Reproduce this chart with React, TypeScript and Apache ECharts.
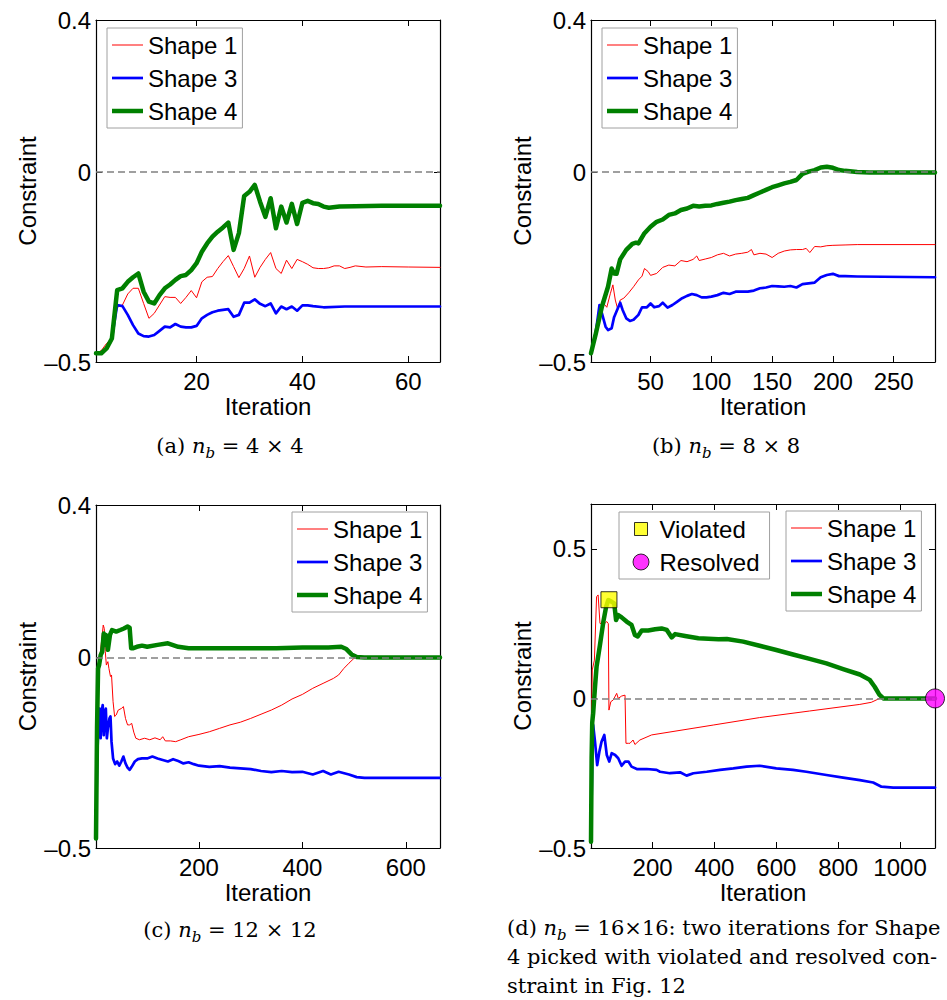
import React, { useEffect, useRef } from 'react';
import * as echarts from 'echarts';

type Pt = [number, number];

// ---------- tick values ----------
const A_XTICKS = [20, 40, 60];
const B_XTICKS = [50, 100, 150, 200, 250];
const C_XTICKS = [200, 400, 600];
const D_XTICKS = [200, 400, 600, 800, 1000];
const Y_TICKS_ABC = [-0.5, 0, 0.4];
const Y_TICKS_D = [-0.5, 0, 0.5];

const SHAPE_NAMES = ['Shape 1', 'Shape 3', 'Shape 4'];
const MARKER_NAMES = ['Violated', 'Resolved'];

// ---------- (a) n_b = 4x4 ----------
const A_S1: Pt[] = [[1,-0.477],[2,-0.470],[3,-0.451],[4,-0.438],[5,-0.356],[6,-0.350],[7,-0.321],[8,-0.306],[9,-0.306],[10,-0.346],[11,-0.385],[12,-0.372],[13,-0.350],[14,-0.328],[15,-0.330],[16,-0.330],[17,-0.346],[18,-0.330],[19,-0.312],[20,-0.331],[21,-0.289],[22,-0.277],[23,-0.275],[24,-0.254],[25,-0.236],[26,-0.220],[27,-0.249],[28,-0.278],[29,-0.254],[30,-0.221],[31,-0.277],[32,-0.251],[33,-0.230],[34,-0.212],[35,-0.254],[36,-0.267],[37,-0.232],[38,-0.254],[39,-0.230],[40,-0.236],[41,-0.243],[42,-0.252],[43,-0.254],[44,-0.254],[45,-0.252],[46,-0.247],[47,-0.247],[48,-0.254],[49,-0.251],[50,-0.247],[52,-0.250],[55,-0.249],[60,-0.250],[66,-0.251]];
const A_S3: Pt[] = [[1,-0.477],[2,-0.475],[3,-0.464],[4,-0.438],[5,-0.350],[6,-0.353],[7,-0.376],[8,-0.403],[9,-0.425],[10,-0.432],[11,-0.433],[12,-0.429],[13,-0.418],[14,-0.407],[15,-0.409],[16,-0.400],[17,-0.407],[18,-0.409],[19,-0.409],[20,-0.405],[21,-0.385],[22,-0.376],[23,-0.369],[24,-0.365],[25,-0.363],[26,-0.361],[27,-0.381],[28,-0.376],[29,-0.344],[30,-0.344],[31,-0.335],[32,-0.347],[33,-0.353],[34,-0.346],[35,-0.372],[36,-0.354],[37,-0.361],[38,-0.354],[39,-0.365],[40,-0.351],[41,-0.351],[42,-0.353],[44,-0.356],[48,-0.354],[55,-0.354],[66,-0.354]];
const A_S4: Pt[] = [[1,-0.477],[2,-0.477],[3,-0.464],[4,-0.438],[5,-0.311],[6,-0.306],[7,-0.289],[8,-0.277],[9,-0.267],[10,-0.315],[11,-0.341],[12,-0.346],[13,-0.324],[14,-0.306],[15,-0.296],[16,-0.284],[17,-0.274],[18,-0.271],[19,-0.258],[20,-0.240],[21,-0.210],[22,-0.188],[23,-0.170],[24,-0.157],[25,-0.146],[26,-0.133],[27,-0.205],[28,-0.161],[29,-0.063],[30,-0.052],[31,-0.034],[32,-0.078],[33,-0.118],[34,-0.069],[35,-0.148],[36,-0.091],[37,-0.133],[38,-0.084],[39,-0.137],[40,-0.081],[41,-0.076],[42,-0.082],[43,-0.084],[44,-0.091],[45,-0.094],[47,-0.091],[50,-0.090],[55,-0.089],[60,-0.089],[66,-0.089]];

// ---------- (b) n_b = 8x8 ----------
const B_S1: Pt[] = [[1,-0.477],[5,-0.420],[8,-0.354],[10,-0.346],[12,-0.348],[14,-0.356],[17,-0.319],[19,-0.297],[21,-0.337],[23,-0.361],[25,-0.337],[28,-0.332],[32,-0.318],[36,-0.302],[40,-0.284],[43,-0.274],[45,-0.254],[48,-0.262],[50,-0.272],[55,-0.267],[60,-0.251],[65,-0.245],[70,-0.247],[75,-0.233],[80,-0.236],[85,-0.230],[88,-0.221],[90,-0.233],[95,-0.229],[100,-0.225],[105,-0.218],[110,-0.214],[115,-0.221],[120,-0.216],[125,-0.214],[130,-0.211],[133,-0.204],[135,-0.218],[140,-0.214],[145,-0.216],[150,-0.225],[155,-0.214],[160,-0.208],[165,-0.205],[170,-0.204],[175,-0.204],[178,-0.201],[181,-0.212],[185,-0.196],[190,-0.197],[195,-0.194],[200,-0.193],[210,-0.192],[220,-0.191],[284,-0.191]];
const B_S3: Pt[] = [[1,-0.477],[5,-0.420],[8,-0.350],[10,-0.372],[13,-0.407],[15,-0.416],[18,-0.411],[20,-0.382],[23,-0.359],[25,-0.344],[27,-0.363],[30,-0.385],[33,-0.392],[36,-0.389],[40,-0.376],[43,-0.356],[47,-0.356],[50,-0.346],[53,-0.356],[57,-0.353],[60,-0.344],[64,-0.357],[68,-0.350],[72,-0.341],[76,-0.332],[80,-0.326],[84,-0.321],[88,-0.324],[92,-0.330],[96,-0.330],[100,-0.328],[105,-0.324],[110,-0.318],[115,-0.321],[120,-0.315],[125,-0.315],[130,-0.315],[135,-0.312],[140,-0.306],[145,-0.304],[150,-0.300],[155,-0.301],[160,-0.302],[165,-0.300],[170,-0.304],[175,-0.295],[180,-0.293],[185,-0.291],[190,-0.277],[195,-0.271],[200,-0.268],[205,-0.274],[210,-0.274],[220,-0.275],[284,-0.277]];
const B_S4: Pt[] = [[1,-0.477],[5,-0.425],[10,-0.354],[15,-0.302],[18,-0.254],[20,-0.267],[22,-0.268],[25,-0.230],[30,-0.205],[35,-0.189],[38,-0.186],[40,-0.188],[45,-0.161],[50,-0.144],[55,-0.131],[60,-0.125],[65,-0.113],[70,-0.109],[75,-0.100],[80,-0.096],[85,-0.089],[90,-0.091],[95,-0.089],[100,-0.088],[105,-0.084],[110,-0.081],[115,-0.078],[120,-0.074],[125,-0.071],[130,-0.068],[135,-0.061],[140,-0.054],[145,-0.047],[150,-0.040],[155,-0.035],[160,-0.030],[165,-0.026],[170,-0.021],[175,-0.005],[180,0.001],[185,0.005],[190,0.012],[195,0.014],[200,0.011],[205,0.005],[210,0.003],[220,0.0],[230,-0.001],[284,-0.001]];

// ---------- (c) n_b = 12x12 ----------
const C_S1: Pt[] = [[1,-0.475],[3,-0.273],[5,-0.064],[8,-0.002],[11,0.033],[15,0.085],[17,0.076],[19,0.015],[21,-0.020],[24,-0.011],[26,-0.029],[29,-0.050],[31,-0.046],[34,-0.116],[37,-0.155],[40,-0.151],[44,-0.138],[50,-0.134],[54,-0.129],[58,-0.160],[62,-0.177],[66,-0.177],[70,-0.173],[74,-0.196],[78,-0.212],[85,-0.216],[95,-0.212],[105,-0.216],[115,-0.211],[125,-0.216],[130,-0.208],[135,-0.219],[145,-0.219],[155,-0.221],[165,-0.216],[180,-0.208],[200,-0.202],[220,-0.195],[240,-0.186],[260,-0.177],[280,-0.170],[300,-0.160],[320,-0.149],[340,-0.138],[360,-0.125],[380,-0.109],[400,-0.097],[420,-0.081],[440,-0.068],[460,-0.055],[470,-0.046],[480,-0.029],[490,-0.015],[500,-0.002],[510,0],[666,0]];
const C_S3: Pt[] = [[1,-0.475],[3,-0.273],[6,-0.168],[8,-0.134],[10,-0.212],[12,-0.142],[14,-0.125],[16,-0.204],[18,-0.147],[20,-0.134],[22,-0.212],[24,-0.186],[27,-0.160],[29,-0.155],[31,-0.221],[34,-0.265],[38,-0.280],[42,-0.273],[46,-0.284],[50,-0.273],[54,-0.260],[58,-0.278],[62,-0.289],[66,-0.295],[70,-0.287],[76,-0.273],[82,-0.267],[90,-0.265],[100,-0.265],[110,-0.260],[120,-0.265],[130,-0.269],[140,-0.273],[150,-0.267],[160,-0.272],[170,-0.278],[180,-0.275],[190,-0.280],[200,-0.284],[220,-0.287],[240,-0.285],[260,-0.289],[280,-0.291],[300,-0.293],[320,-0.298],[340,-0.301],[360,-0.298],[380,-0.301],[400,-0.300],[420,-0.307],[440,-0.298],[455,-0.307],[470,-0.300],[490,-0.307],[505,-0.314],[520,-0.316],[666,-0.316]];
const C_S4: Pt[] = [[1,-0.475],[3,-0.186],[5,-0.029],[7,-0.020],[10,0.006],[13,0.015],[16,0.063],[18,0.033],[20,0.059],[24,0.020],[28,0.059],[32,0.072],[40,0.068],[48,0.072],[55,0.076],[62,0.081],[66,0.078],[69,0.024],[72,0.024],[80,0.028],[90,0.031],[100,0.028],[120,0.033],[140,0.037],[160,0.028],[180,0.024],[250,0.024],[350,0.024],[400,0.026],[450,0.026],[475,0.028],[485,0.022],[495,0.008],[505,0.001],[520,0],[666,0]];

// ---------- (d) n_b = 16x16 ----------
const D_S1: Pt[] = [[1,-0.479],[3,-0.05],[5,0.095],[12,0.128],[19,0.340],[24,0.346],[30,0.251],[41,0.246],[52,0.257],[57,0.250],[59,-0.039],[65,-0.011],[73,-0.005],[84,0.017],[89,0],[100,0.008],[111,0.011],[114,-0.150],[122,-0.150],[127,-0.150],[137,-0.139],[143,-0.154],[159,-0.139],[197,-0.122],[396,-0.089],[546,-0.064],[708,-0.042],[870,-0.020],[907,-0.013],[934,0],[1113,0]];
const D_S3: Pt[] = [[1,-0.479],[5,-0.20],[8,-0.089],[14,-0.145],[21,-0.223],[28,-0.178],[35,-0.145],[44,-0.122],[52,-0.189],[60,-0.211],[68,-0.183],[79,-0.189],[89,-0.200],[100,-0.225],[111,-0.211],[122,-0.211],[132,-0.228],[149,-0.236],[181,-0.236],[213,-0.239],[224,-0.245],[256,-0.250],[289,-0.247],[310,-0.258],[332,-0.250],[375,-0.245],[418,-0.239],[461,-0.234],[504,-0.228],[546,-0.225],[600,-0.234],[654,-0.239],[697,-0.245],[762,-0.256],[816,-0.265],[870,-0.273],[913,-0.281],[940,-0.295],[978,-0.298],[1113,-0.298]];
const D_S4: Pt[] = [[1,-0.479],[3,-0.20],[5,-0.08],[8,-0.050],[14,0.039],[19,0.106],[30,0.179],[41,0.257],[50,0.307],[57,0.329],[68,0.323],[76,0.318],[82,0.262],[89,0.279],[100,0.271],[116,0.257],[132,0.246],[143,0.212],[152,0.207],[165,0.227],[186,0.227],[208,0.231],[229,0.234],[246,0.229],[262,0.204],[273,0.215],[305,0.209],[348,0.201],[413,0.198],[440,0.199],[493,0.190],[546,0.176],[600,0.162],[654,0.147],[708,0.132],[762,0.117],[816,0.098],[870,0.080],[902,0.062],[918,0.039],[933,0.013],[946,0],[1113,0]];
const D_VIOLATED: Pt[] = [[59, 0.33]];
const D_RESOLVED: Pt[] = [[1113, 0]];

const FONT = '"Liberation Sans", Arial, Helvetica, sans-serif';
const SERIF = '"DejaVu Serif", "Liberation Serif", serif';
const RED = '#ff0000';
const BLUE = '#0000ff';
const GREEN = 'rgb(0,128,0)';

const PANELS = [
  { grid: { left: 96, top: 20, width: 344, height: 342 }, xMin: 1, xMax: 66, xTicks: A_XTICKS, yMin: -0.5, yMax: 0.4, yTicks: Y_TICKS_ABC, s1: A_S1, s3: A_S3, s4: A_S4, legend: { left: 107, top: 28 } },
  { grid: { left: 591, top: 20, width: 344, height: 342 }, xMin: 1, xMax: 284, xTicks: B_XTICKS, yMin: -0.5, yMax: 0.4, yTicks: Y_TICKS_ABC, s1: B_S1, s3: B_S3, s4: B_S4, legend: { left: 602, top: 28 } },
  { grid: { left: 96, top: 505, width: 344, height: 343 }, xMin: 1, xMax: 666, xTicks: C_XTICKS, yMin: -0.5, yMax: 0.4, yTicks: Y_TICKS_ABC, s1: C_S1, s3: C_S3, s4: C_S4, legend: { left: 292, top: 512 } },
  { grid: { left: 591, top: 504, width: 344, height: 344 }, xMin: 1, xMax: 1113, xTicks: D_XTICKS, yMin: -0.5, yMax: 0.65, yTicks: Y_TICKS_D, s1: D_S1, s3: D_S3, s4: D_S4, legend: { left: 786, top: 511 } },
];

const fmtY = (v: number) => (v < 0 ? '\u2013' + String(Math.abs(v)) : String(v));
const fmtX = (v: number) => String(v);

// legend icon: a horizontal bar of given thickness inside a 31x24 box
const lineIcon = (w: number) => {
  const a = 12 - w / 2;
  const b = 12 + w / 2;
  return `path://M0,0M31,24M0,${a}L31,${a}L31,${b}L0,${b}Z`;
};
const SQUARE_ICON = 'path://M0,0M27,16M7,1.5L20,1.5L20,14.5L7,14.5Z';
const CIRCLE_ICON = 'path://M0,0M27,16M21.5,8A8,8,0,1,1,5.5,8A8,8,0,1,1,21.5,8Z';

function buildOption() {
  const axisLine = { show: true, onZero: false, lineStyle: { color: '#000', width: 1.2 } };
  const grids: any[] = [];
  const xAxes: any[] = [];
  const yAxes: any[] = [];
  const series: any[] = [];
  const legends: any[] = [];
  const lineWidths: Record<string, number> = { 'Shape 1': 1, 'Shape 3': 2.7, 'Shape 4': 4.5 };
  const lineColors: Record<string, string> = { 'Shape 1': RED, 'Shape 3': BLUE, 'Shape 4': GREEN };

  PANELS.forEach((p, i) => {
    grids.push({ ...p.grid, containLabel: false, outerBoundsMode: 'none', show: false });
    const tickStyle = { show: true, inside: true, length: 6, lineStyle: { color: '#000', width: 1 } };
    xAxes.push({
      type: 'value', gridIndex: i, position: 'bottom', min: p.xMin, max: p.xMax,
      name: 'Iteration', nameLocation: 'middle', nameGap: 34, nameMoveOverlap: false,
      nameTextStyle: { fontFamily: FONT, fontSize: 24, color: '#000', lineHeight: 20 },
      axisLine, axisTick: { ...tickStyle, customValues: p.xTicks },
      axisLabel: { show: true, customValues: p.xTicks, formatter: fmtX, margin: 9, lineHeight: 20, fontFamily: FONT, fontSize: 24, color: '#000', hideOverlap: false },
      splitLine: { show: false },
    });
    xAxes.push({
      type: 'value', gridIndex: i, position: 'top', min: p.xMin, max: p.xMax,
      axisLine, axisTick: { ...tickStyle, customValues: p.xTicks },
      axisLabel: { show: false }, splitLine: { show: false },
    });
    yAxes.push({
      type: 'value', gridIndex: i, position: 'left', min: p.yMin, max: p.yMax,
      name: 'Constraint', nameLocation: 'middle', nameGap: 57, nameRotate: 90, nameMoveOverlap: false,
      nameTextStyle: { fontFamily: FONT, fontSize: 24, color: '#000' },
      axisLine, axisTick: { ...tickStyle, customValues: p.yTicks },
      axisLabel: { show: true, customValues: p.yTicks, formatter: fmtY, margin: 5, fontFamily: FONT, fontSize: 24, color: '#000', hideOverlap: false },
      splitLine: { show: false },
    });
    yAxes.push({
      type: 'value', gridIndex: i, position: 'right', min: p.yMin, max: p.yMax,
      axisLine, axisTick: { ...tickStyle, customValues: p.yTicks },
      axisLabel: { show: false }, splitLine: { show: false },
    });

    const data: Record<string, Pt[]> = { 'Shape 1': p.s1, 'Shape 3': p.s3, 'Shape 4': p.s4 };
    SHAPE_NAMES.forEach((name, k) => {
      series.push({
        type: 'line', name, xAxisIndex: 2 * i, yAxisIndex: 2 * i, data: data[name],
        symbol: 'none', showSymbol: false, smooth: false, silent: true,
        lineStyle: { color: lineColors[name], width: lineWidths[name], join: 'round', cap: 'round' },
        itemStyle: { color: lineColors[name] },
        emphasis: { disabled: true },
        z: 2 + k,
        markLine: k === 0 ? {
          silent: true, symbol: ['none', 'none'], label: { show: false },
          lineStyle: { type: [7, 4], color: '#808080', width: 1.5 },
          emphasis: { disabled: true },
          data: [{ yAxis: 0 }],
        } : undefined,
      });
    });

    legends.push({
      orient: 'vertical', left: p.legend.left, top: p.legend.top,
      itemWidth: 31, itemHeight: 24, itemGap: 9, padding: [5, 5, 5, 5],
      borderColor: '#a0a0a0', borderWidth: 1, backgroundColor: '#fff',
      selectedMode: false, z: 20, symbolKeepAspect: false,
      textStyle: { fontFamily: FONT, fontSize: 24, color: '#000' },
      data: SHAPE_NAMES.map((name) => ({ name, icon: lineIcon(lineWidths[name]), itemStyle: { color: lineColors[name], borderWidth: 0 } })),
    });
  });

  series.push({
    type: 'scatter', name: 'Violated', xAxisIndex: 6, yAxisIndex: 6, data: D_VIOLATED,
    symbol: 'rect', symbolSize: 16, clip: false, silent: true, z: 10,
    itemStyle: { color: '#ffff00', borderColor: '#000', borderWidth: 1 },
    emphasis: { disabled: true },
  });
  series.push({
    type: 'scatter', name: 'Resolved', xAxisIndex: 6, yAxisIndex: 6, data: D_RESOLVED,
    symbol: 'circle', symbolSize: 19, clip: false, silent: true, z: 10,
    itemStyle: { color: '#ff00ff', borderColor: '#000', borderWidth: 1 },
    emphasis: { disabled: true },
  });
  legends.push({
    orient: 'vertical', left: 619, top: 512,
    itemWidth: 27, itemHeight: 16, itemGap: 9, padding: [5, 10, 5, 8],
    borderColor: '#a0a0a0', borderWidth: 1, backgroundColor: '#fff',
    selectedMode: false, z: 20, symbolKeepAspect: false,
    textStyle: { fontFamily: FONT, fontSize: 24, color: '#000' },
    data: [
      { name: MARKER_NAMES[0], icon: SQUARE_ICON, itemStyle: { color: '#ffff00', borderColor: '#000', borderWidth: 1 } },
      { name: MARKER_NAMES[1], icon: CIRCLE_ICON, itemStyle: { color: '#ff00ff', borderColor: '#000', borderWidth: 1 } },
    ],
  });

  const rich = {
    t: { fontFamily: SERIF, fontSize: 21, fill: '#000', color: '#000', lineHeight: 28 },
    i: { fontFamily: SERIF, fontSize: 21, fontStyle: 'italic', fill: '#000', color: '#000', lineHeight: 28 },
    s: { fontFamily: SERIF, fontSize: 15, fontStyle: 'italic', fill: '#000', color: '#000', lineHeight: 15, verticalAlign: 'bottom' },
  };
  const cap = (x: number, y: number, text: string, align: string) => ({
    type: 'text', x, y, silent: true,
    style: { text, rich, textAlign: align, textVerticalAlign: 'middle', fontFamily: SERIF, fontSize: 21, fill: '#000' },
  });

  return {
    animation: false,
    backgroundColor: '#fff',
    textStyle: { fontFamily: FONT },
    grid: grids,
    xAxis: xAxes,
    yAxis: yAxes,
    legend: legends,
    series,
    graphic: [
      cap(230, 446, '{t|(a) }{i|n}{s|b}{t| = 4 × 4}', 'center'),
      cap(726, 446, '{t|(b) }{i|n}{s|b}{t| = 8 × 8}', 'center'),
      cap(230, 930, '{t|(c) }{i|n}{s|b}{t| = 12 × 12}', 'center'),
      cap(507, 928, '{t|(d) }{i|n}{s|b}{t| = 16×16: two iterations for Shape}', 'left'),
      cap(507, 957, '{t|4 picked with violated and resolved con-}', 'left'),
      cap(507, 986, '{t|straint in Fig. 12}', 'left'),
    ],
  };
}

export default function App() {
  const ref = useRef<HTMLDivElement>(null);
  useEffect(() => {
    if (!ref.current) return;
    const chart = echarts.init(ref.current, null, { renderer: 'svg' });
    chart.setOption(buildOption() as any);
    return () => chart.dispose();
  }, []);
  return (
    <div
      ref={ref}
      style={{ position: 'absolute', left: 0, top: 0, width: 947, height: 1000, background: '#fff' }}
    />
  );
}
